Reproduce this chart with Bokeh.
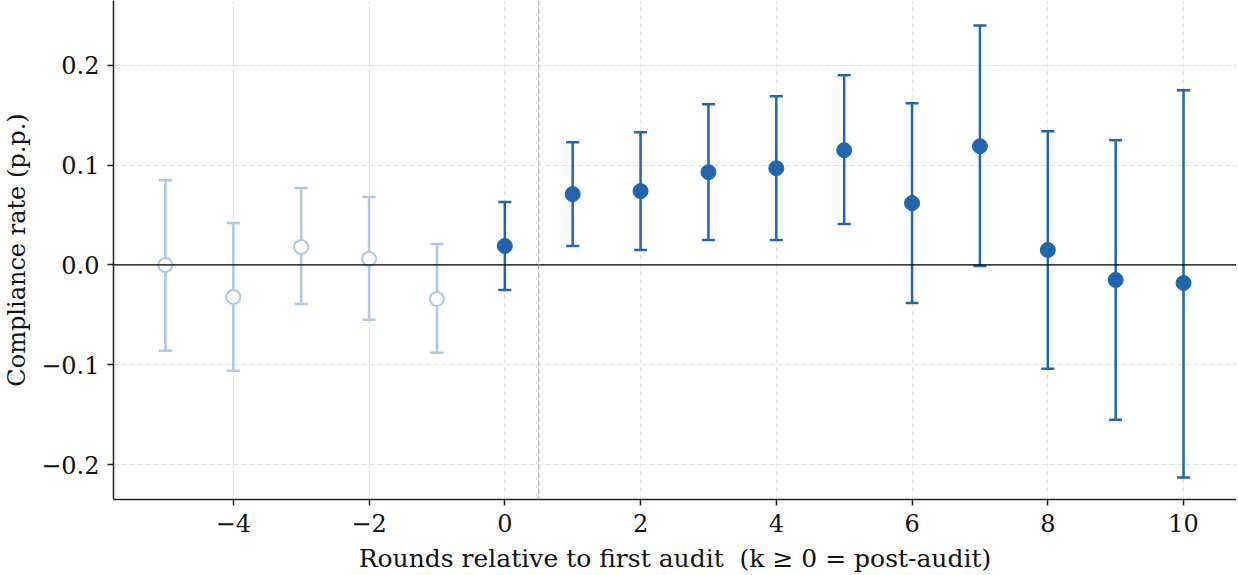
from bokeh.plotting import figure
from bokeh.models import (ColumnDataSource, Whisker, TeeHead, Span, FixedTicker,
                          CustomJSTickFormatter, Range1d)
from bokeh.embed import file_html
from bokeh.resources import INLINE

# ---- data ----
pre_k = [-5, -4, -3, -2, -1]
pre_est = [0.000, -0.032, 0.018, 0.006, -0.034]
pre_lo = [-0.086, -0.106, -0.039, -0.055, -0.088]
pre_hi = [0.085, 0.042, 0.077, 0.068, 0.021]

post_k = [0, 1, 2, 3, 4, 5, 6, 7, 8, 9, 10]
post_est = [0.019, 0.071, 0.074, 0.093, 0.097, 0.115, 0.062, 0.119, 0.015, -0.015, -0.018]
post_lo = [-0.025, 0.019, 0.015, 0.025, 0.025, 0.041, -0.038, -0.001, -0.104, -0.155, -0.213]
post_hi = [0.063, 0.123, 0.133, 0.161, 0.169, 0.190, 0.162, 0.240, 0.134, 0.125, 0.175]

x_ticks = [-4, -2, 0, 2, 4, 6, 8, 10]
y_ticks = [-0.2, -0.1, 0.0, 0.1, 0.2]

PRE_COLOR = "#aec7e8"
POST_COLOR = "#2166ac"
FONT = "DejaVu Serif"

p = figure(width=1236, height=575, output_backend="svg", toolbar_location=None,
           x_range=Range1d(-5.765, 10.78), y_range=Range1d(-0.235, 0.265))
p.min_border_left = 104
p.min_border_right = 0
p.min_border_top = 0
p.min_border_bottom = 75
p.outline_line_color = None
p.background_fill_color = "white"

for ax in (p.xaxis[0], p.yaxis[0]):
    ax.axis_line_color = "#222222"
    ax.axis_line_width = 1.5
    ax.major_tick_line_color = "#222222"
    ax.major_tick_line_width = 1.5
    ax.major_tick_out = 6
    ax.major_tick_in = 0
    ax.minor_tick_line_color = None
    ax.major_label_text_font = FONT
    ax.major_label_text_font_size = "24px"
    ax.major_label_text_color = "#111111"
    ax.axis_label_text_font = FONT
    ax.axis_label_text_font_style = "normal"
    ax.axis_label_text_color = "#111111"

p.xaxis.axis_label_text_font_size = "25px"
p.yaxis.axis_label_text_font_size = "24px"
p.xaxis.ticker = FixedTicker(ticks=x_ticks)
p.yaxis.ticker = FixedTicker(ticks=y_ticks)
p.xaxis.formatter = CustomJSTickFormatter(code="return (tick < 0 ? '\u2212' : '') + Math.abs(tick).toFixed(0);")
p.yaxis.formatter = CustomJSTickFormatter(code="var v = Math.abs(tick) < 1e-9 ? 0 : tick; return (v < 0 ? '\u2212' : '') + Math.abs(v).toFixed(1);")
p.xaxis.axis_label = "Rounds relative to first audit \u00a0(k \u2265 0 = post-audit)"
p.yaxis.axis_label = "Compliance rate (p.p.)"
p.xaxis.major_label_standoff = 8
p.yaxis.major_label_standoff = 8
p.xaxis.axis_label_standoff = 9
p.yaxis.axis_label_standoff = 7

for g in (p.xgrid[0], p.ygrid[0]):
    g.grid_line_color = "#d9d9d9"
    g.grid_line_dash = "5 3"
    g.grid_line_width = 1
    g.grid_line_alpha = 0.8

p.add_layout(Span(location=0, dimension="width", line_color="black", line_width=1.3))
p.add_layout(Span(location=0.5, dimension="height", line_color="#aaaaaa",
                  line_width=1.2, line_dash="5 3"))

pre_src = ColumnDataSource(dict(k=pre_k, est=pre_est, lo=pre_lo, hi=pre_hi))
post_src = ColumnDataSource(dict(k=post_k, est=post_est, lo=post_lo, hi=post_hi))

for src, col in ((pre_src, PRE_COLOR), (post_src, POST_COLOR)):
    w = Whisker(source=src, base="k", lower="lo", upper="hi", dimension="height",
                line_color=col, line_width=2.5,
                upper_head=TeeHead(size=13, line_color=col, line_width=2.5),
                lower_head=TeeHead(size=13, line_color=col, line_width=2.5))
    p.add_layout(w)

p.scatter("k", "est", source=pre_src, size=14, fill_color="white",
          line_color=PRE_COLOR, line_width=2)
p.scatter("k", "est", source=post_src, size=15, fill_color=POST_COLOR,
          line_color=POST_COLOR, line_width=1)

open("out.html", "w").write(file_html(p, INLINE))
